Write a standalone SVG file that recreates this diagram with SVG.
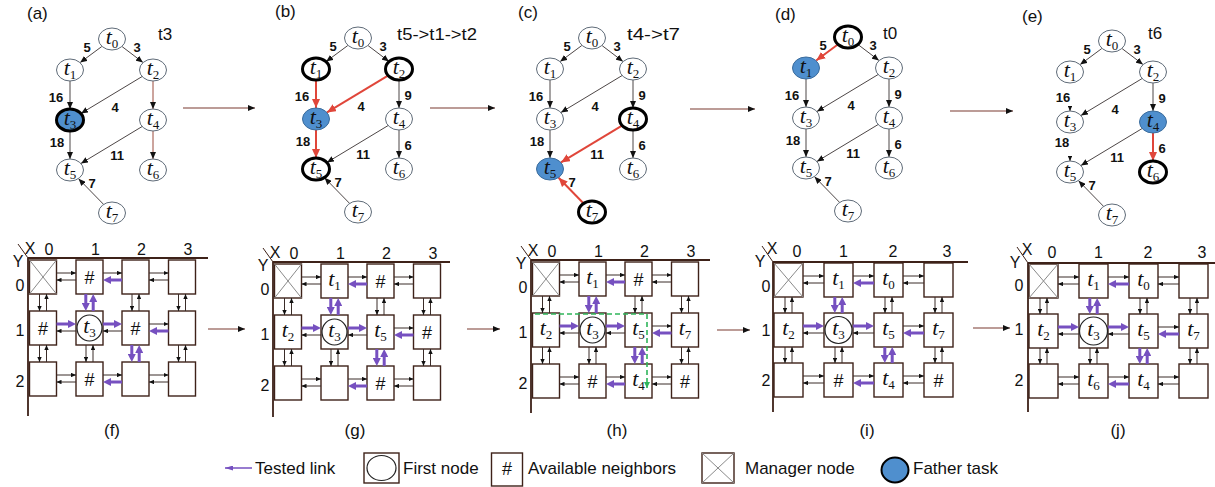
<svg xmlns="http://www.w3.org/2000/svg" xmlns:xlink="http://www.w3.org/1999/xlink" width="1215" height="487" viewBox="0 0 1215 487">
<defs>
<style>
.nd{fill:#fff;stroke:#5f6b78;stroke-width:1}
.bd{fill:#fff;stroke:#000;stroke-width:3}
.bu{fill:#4f8fce;stroke:#3b6c9c;stroke-width:1}
.bub{fill:#4f8fce;stroke:#000;stroke-width:3}
.e{stroke:#4d4646;stroke-width:1;fill:none;marker-end:url(#ah)}
.eb{stroke:#9a4a3c}
.r{stroke:#e0463a;stroke-width:2;fill:none;marker-end:url(#ahr)}
.tt{font-family:"Liberation Serif","DejaVu Serif",serif;font-style:italic;font-size:22px;text-anchor:middle;fill:#111}
.sb{font-style:normal;font-size:13px}
.w{font-family:"Liberation Sans",Arial,sans-serif;font-weight:bold;font-size:13px;text-anchor:middle;fill:#111}
.lb{font-family:"Liberation Sans",Arial,sans-serif;font-size:17px;fill:#111}
.tl{font-family:"Liberation Sans",Arial,sans-serif;font-size:17px;fill:#111}
.ax{font-family:"Liberation Sans",Arial,sans-serif;font-size:16px;text-anchor:middle;fill:#111}
.cl{fill:#fff;stroke:#3e2219;stroke-width:1.4}
.hs{font-family:"Liberation Sans",Arial,sans-serif;font-size:18px;text-anchor:middle;fill:#111}
.k{stroke:#3a2c28;stroke-width:1;marker-end:url(#ahs)}
.p{stroke:#7650c0;stroke-width:3;marker-end:url(#ahp)}
.axl{stroke:#3e2219;stroke-width:1.8;fill:none}
.mx{stroke:#8a8a8a;stroke-width:1;fill:none}
.fc{fill:none;stroke:#222;stroke-width:1.2}
.tr{stroke:#7a3b30;stroke-width:1.2;marker-end:url(#aht)}
.gd{fill:none;stroke:#2fb55a;stroke-width:1.6;stroke-dasharray:5 3;marker-end:url(#ahg)}
</style>
<marker id="ah" markerUnits="userSpaceOnUse" markerWidth="7" markerHeight="6" refX="7" refY="3" orient="auto"><path d="M0,0L7,3L0,6z" fill="#111"/></marker>
<marker id="ahr" markerUnits="userSpaceOnUse" markerWidth="9" markerHeight="8" refX="9" refY="4" orient="auto"><path d="M0,0L9,4L0,8z" fill="#e0463a"/></marker>
<marker id="ahs" markerUnits="userSpaceOnUse" markerWidth="5" markerHeight="4.4" refX="5" refY="2.2" orient="auto"><path d="M0,0L5,2.2L0,4.4z" fill="#111"/></marker>
<marker id="ahp" markerUnits="userSpaceOnUse" markerWidth="8" markerHeight="8" refX="3.2" refY="4" orient="auto"><path d="M0,0L8,4L0,8z" fill="#7650c0"/></marker>
<marker id="ahl" markerUnits="userSpaceOnUse" markerWidth="8" markerHeight="5" refX="8" refY="2.5" orient="auto"><path d="M0,0L8,2.5L0,5z" fill="#7650c0"/></marker>
<marker id="ahg" markerUnits="userSpaceOnUse" markerWidth="6" markerHeight="6" refX="6" refY="3" orient="auto"><path d="M0,0L6,3L0,6z" fill="#2fb55a"/></marker>
<marker id="aht" markerUnits="userSpaceOnUse" markerWidth="7" markerHeight="6" refX="7" refY="3" orient="auto"><path d="M0,0L7,3L0,6z" fill="#111"/></marker>
<g id="linksA">
<line class="k" x1="28.5" y1="15" x2="48" y2="15"/><line class="k" x1="48" y1="22" x2="28.5" y2="22"/>
<line class="k" x1="75" y1="15" x2="94" y2="15"/><line class="p" x1="94" y1="22" x2="79.8" y2="22"/>
<line class="k" x1="121" y1="15" x2="140.5" y2="15"/><line class="k" x1="140.5" y1="22" x2="121" y2="22"/>
<line class="p" x1="28.5" y1="66" x2="43.2" y2="66"/><line class="k" x1="48" y1="73" x2="28.5" y2="73"/>
<line class="p" x1="75" y1="66" x2="89.2" y2="66"/><line class="k" x1="94" y1="73" x2="75" y2="73"/>
<line class="k" x1="121" y1="66" x2="140.5" y2="66"/><line class="p" x1="140.5" y1="73" x2="125.8" y2="73"/>
<line class="k" x1="28.5" y1="117" x2="48" y2="117"/><line class="k" x1="48" y1="124" x2="28.5" y2="124"/>
<line class="k" x1="75" y1="117" x2="94" y2="117"/><line class="p" x1="94" y1="124" x2="79.8" y2="124"/>
<line class="k" x1="121" y1="117" x2="140.5" y2="117"/><line class="k" x1="140.5" y1="124" x2="121" y2="124"/>
<line class="k" x1="11.5" y1="36" x2="11.5" y2="53"/><line class="k" x1="18.5" y1="53" x2="18.5" y2="36"/>
<line class="p" x1="57.8" y1="36" x2="57.8" y2="48.2"/><line class="p" x1="65.2" y1="53" x2="65.2" y2="40.8"/>
<line class="k" x1="104" y1="36" x2="104" y2="53"/><line class="k" x1="111" y1="53" x2="111" y2="36"/>
<line class="k" x1="150.5" y1="36" x2="150.5" y2="53"/><line class="k" x1="157.5" y1="53" x2="157.5" y2="36"/>
<line class="k" x1="11.5" y1="87" x2="11.5" y2="104"/><line class="k" x1="18.5" y1="104" x2="18.5" y2="87"/>
<line class="k" x1="58" y1="87" x2="58" y2="104"/><line class="k" x1="65" y1="104" x2="65" y2="87"/>
<line class="p" x1="103.8" y1="87" x2="103.8" y2="99.2"/><line class="p" x1="111.2" y1="104" x2="111.2" y2="91.8"/>
<line class="k" x1="150.5" y1="87" x2="150.5" y2="104"/><line class="k" x1="157.5" y1="104" x2="157.5" y2="87"/>
</g>
<g id="linksB">
<line class="k" x1="30" y1="14" x2="51" y2="14"/><line class="k" x1="51" y1="21" x2="30" y2="21"/>
<line class="k" x1="80" y1="14" x2="101" y2="14"/><line class="p" x1="101" y1="21" x2="84.8" y2="21"/>
<line class="k" x1="130" y1="14" x2="151" y2="14"/><line class="k" x1="151" y1="21" x2="130" y2="21"/>
<line class="p" x1="30" y1="64" x2="46.2" y2="64"/><line class="k" x1="51" y1="71" x2="30" y2="71"/>
<line class="p" x1="80" y1="64" x2="96.2" y2="64"/><line class="k" x1="101" y1="71" x2="80" y2="71"/>
<line class="k" x1="130" y1="64" x2="151" y2="64"/><line class="p" x1="151" y1="71" x2="134.8" y2="71"/>
<line class="k" x1="30" y1="114" x2="51" y2="114"/><line class="k" x1="51" y1="121" x2="30" y2="121"/>
<line class="k" x1="80" y1="114" x2="101" y2="114"/><line class="p" x1="101" y1="121" x2="84.8" y2="121"/>
<line class="k" x1="130" y1="114" x2="151" y2="114"/><line class="k" x1="151" y1="121" x2="130" y2="121"/>
<line class="k" x1="12" y1="35" x2="12" y2="51"/><line class="k" x1="19" y1="51" x2="19" y2="35"/>
<line class="p" x1="61.8" y1="35" x2="61.8" y2="46.2"/><line class="p" x1="69.2" y1="51" x2="69.2" y2="39.8"/>
<line class="k" x1="112" y1="35" x2="112" y2="51"/><line class="k" x1="119" y1="51" x2="119" y2="35"/>
<line class="k" x1="162" y1="35" x2="162" y2="51"/><line class="k" x1="169" y1="51" x2="169" y2="35"/>
<line class="k" x1="12" y1="85" x2="12" y2="101"/><line class="k" x1="19" y1="101" x2="19" y2="85"/>
<line class="k" x1="62" y1="85" x2="62" y2="101"/><line class="k" x1="69" y1="101" x2="69" y2="85"/>
<line class="p" x1="111.8" y1="85" x2="111.8" y2="96.2"/><line class="p" x1="119.2" y1="101" x2="119.2" y2="89.8"/>
<line class="k" x1="162" y1="85" x2="162" y2="101"/><line class="k" x1="169" y1="101" x2="169" y2="85"/>
</g>
</defs>
<rect width="1215" height="487" fill="#fff"/>

<!-- panel labels -->
<g id="labels">
<text class="lb" x="27" y="19">(a)</text>
<text class="lb" x="275" y="17">(b)</text>
<text class="lb" x="518" y="18">(c)</text>
<text class="lb" x="775" y="20">(d)</text>
<text class="lb" x="1022" y="22">(e)</text>
<text class="tl" x="158" y="40">t3</text>
<text class="tl" x="397" y="40" textLength="80" lengthAdjust="spacingAndGlyphs">t5-&gt;t1-&gt;t2</text>
<text class="tl" x="627" y="40" textLength="53" lengthAdjust="spacingAndGlyphs">t4-&gt;t7</text>
<text class="tl" x="883" y="39">t0</text>
<text class="tl" x="1148" y="39">t6</text>
<text class="lb" x="112" y="436" text-anchor="middle">(f)</text>
<text class="lb" x="355" y="436" text-anchor="middle">(g)</text>
<text class="lb" x="617" y="436" text-anchor="middle">(h)</text>
<text class="lb" x="867" y="436" text-anchor="middle">(i)</text>
<text class="lb" x="1118" y="436" text-anchor="middle">(j)</text>
</g>

<!-- graph (a) -->
<g id="graph-a" transform="translate(112,39)">
<g id="a-edges">
<line class="e" x1="-10.2" y1="7.5" x2="-31.8" y2="23.5"/>
<line class="e" x1="10.1" y1="7.6" x2="30.9" y2="23.4"/>
<line class="e" x1="-42" y1="42" x2="-42" y2="70"/>
<line class="e" x1="30" y1="37.6" x2="-31" y2="74.4"/>
<line class="e eb" x1="41" y1="42" x2="41" y2="70"/>
<line class="e" x1="-42" y1="92" x2="-42" y2="120"/>
<line class="e" x1="30" y1="87.6" x2="-31" y2="124.4"/>
<line class="e eb" x1="41" y1="92" x2="41" y2="120"/>
<line class="e" x1="-8.6" y1="165.2" x2="-33.4" y2="139.8"/>
</g>
<g class="w"><text x="-25" y="12.5">5</text><text x="25" y="12.5">3</text><text x="-56" y="62.5">16</text><text x="3" y="72.5">4</text><text x="-55" y="107.5">18</text><text x="5" y="120.5">11</text><text x="-20" y="148.5">7</text></g>
<g id="a-t0"><ellipse class="nd" cx="0" cy="0" rx="13.5" ry="11"/><text class="tt" x="0" y="4.5">t<tspan class="sb" dy="4">0</tspan></text></g>
<g id="a-t1"><ellipse class="nd" cx="-42" cy="31" rx="13.5" ry="11"/><text class="tt" x="-42" y="35.5">t<tspan class="sb" dy="4">1</tspan></text></g>
<g id="a-t2"><ellipse class="nd" cx="41" cy="31" rx="13.5" ry="11"/><text class="tt" x="41" y="35.5">t<tspan class="sb" dy="4">2</tspan></text></g>
<g id="a-t3"><ellipse class="bub" cx="-42" cy="81" rx="13.5" ry="11"/><text class="tt" x="-42" y="85.5">t<tspan class="sb" dy="4">3</tspan></text></g>
<g id="a-t4"><ellipse class="nd" cx="41" cy="81" rx="13.5" ry="11"/><text class="tt" x="41" y="85.5">t<tspan class="sb" dy="4">4</tspan></text></g>
<g id="a-t5"><ellipse class="nd" cx="-42" cy="131" rx="13.5" ry="11"/><text class="tt" x="-42" y="135.5">t<tspan class="sb" dy="4">5</tspan></text></g>
<g id="a-t6"><ellipse class="nd" cx="41" cy="131" rx="13.5" ry="11"/><text class="tt" x="41" y="135.5">t<tspan class="sb" dy="4">6</tspan></text></g>
<g id="a-t7"><ellipse class="nd" cx="0" cy="174" rx="13.5" ry="11"/><text class="tt" x="0" y="178.5">t<tspan class="sb" dy="4">7</tspan></text></g>
</g>

<!-- graph (b) -->
<g id="graph-b" transform="translate(358,38)">
<g id="b-edges">
<line class="e" x1="-10.2" y1="7.5" x2="-31.8" y2="23.5"/>
<line class="e" x1="10.1" y1="7.6" x2="30.9" y2="23.4"/>
<line class="r" x1="-42" y1="42" x2="-42" y2="70"/>
<line class="r" x1="30" y1="37.6" x2="-31" y2="74.4"/>
<line class="e" x1="41" y1="42" x2="41" y2="70"/>
<line class="r" x1="-42" y1="92" x2="-42" y2="120"/>
<line class="e" x1="30" y1="87.6" x2="-31" y2="124.4"/>
<line class="e" x1="41" y1="92" x2="41" y2="120"/>
<line class="e" x1="-8.6" y1="165.2" x2="-33.4" y2="139.8"/>
</g>
<g class="w"><text x="-25" y="12.5">5</text><text x="25" y="12.5">3</text><text x="-56" y="62.5">16</text><text x="3" y="72.5">4</text><text x="50" y="61.5">9</text><text x="-55" y="107.5">18</text><text x="5" y="120.5">11</text><text x="50" y="111.5">6</text><text x="-20" y="148.5">7</text></g>
<g id="b-t0"><ellipse class="nd" cx="0" cy="0" rx="13.5" ry="11"/><text class="tt" x="0" y="4.5">t<tspan class="sb" dy="4">0</tspan></text></g>
<g id="b-t1"><ellipse class="bd" cx="-42" cy="31" rx="13.5" ry="11"/><text class="tt" x="-42" y="35.5">t<tspan class="sb" dy="4">1</tspan></text></g>
<g id="b-t2"><ellipse class="bd" cx="41" cy="31" rx="13.5" ry="11"/><text class="tt" x="41" y="35.5">t<tspan class="sb" dy="4">2</tspan></text></g>
<g id="b-t3"><ellipse class="bu" cx="-42" cy="81" rx="13.5" ry="11"/><text class="tt" x="-42" y="85.5">t<tspan class="sb" dy="4">3</tspan></text></g>
<g id="b-t4"><ellipse class="nd" cx="41" cy="81" rx="13.5" ry="11"/><text class="tt" x="41" y="85.5">t<tspan class="sb" dy="4">4</tspan></text></g>
<g id="b-t5"><ellipse class="bd" cx="-42" cy="131" rx="13.5" ry="11"/><text class="tt" x="-42" y="135.5">t<tspan class="sb" dy="4">5</tspan></text></g>
<g id="b-t6"><ellipse class="nd" cx="41" cy="131" rx="13.5" ry="11"/><text class="tt" x="41" y="135.5">t<tspan class="sb" dy="4">6</tspan></text></g>
<g id="b-t7"><ellipse class="nd" cx="0" cy="174" rx="13.5" ry="11"/><text class="tt" x="0" y="178.5">t<tspan class="sb" dy="4">7</tspan></text></g>
</g>

<!-- graph (c) -->
<g id="graph-c" transform="translate(592,38)">
<g id="c-edges">
<line class="e" x1="-10.2" y1="7.5" x2="-31.8" y2="23.5"/>
<line class="e" x1="10.1" y1="7.6" x2="30.9" y2="23.4"/>
<line class="e" x1="-42" y1="42" x2="-42" y2="70"/>
<line class="e" x1="30" y1="37.6" x2="-31" y2="74.4"/>
<line class="e" x1="41" y1="42" x2="41" y2="70"/>
<line class="e" x1="-42" y1="92" x2="-42" y2="120"/>
<line class="r" x1="30" y1="87.6" x2="-31" y2="124.4"/>
<line class="e" x1="41" y1="92" x2="41" y2="120"/>
<line class="r" x1="-8.6" y1="165.2" x2="-33.4" y2="139.8"/>
</g>
<g class="w"><text x="-25" y="12.5">5</text><text x="25" y="12.5">3</text><text x="-56" y="62.5">16</text><text x="3" y="72.5">4</text><text x="50" y="61.5">9</text><text x="-55" y="107.5">18</text><text x="5" y="120.5">11</text><text x="50" y="111.5">6</text><text x="-20" y="148.5">7</text></g>
<g id="c-t0"><ellipse class="nd" cx="0" cy="0" rx="13.5" ry="11"/><text class="tt" x="0" y="4.5">t<tspan class="sb" dy="4">0</tspan></text></g>
<g id="c-t1"><ellipse class="nd" cx="-42" cy="31" rx="13.5" ry="11"/><text class="tt" x="-42" y="35.5">t<tspan class="sb" dy="4">1</tspan></text></g>
<g id="c-t2"><ellipse class="nd" cx="41" cy="31" rx="13.5" ry="11"/><text class="tt" x="41" y="35.5">t<tspan class="sb" dy="4">2</tspan></text></g>
<g id="c-t3"><ellipse class="nd" cx="-42" cy="81" rx="13.5" ry="11"/><text class="tt" x="-42" y="85.5">t<tspan class="sb" dy="4">3</tspan></text></g>
<g id="c-t4"><ellipse class="bd" cx="41" cy="81" rx="13.5" ry="11"/><text class="tt" x="41" y="85.5">t<tspan class="sb" dy="4">4</tspan></text></g>
<g id="c-t5"><ellipse class="bu" cx="-42" cy="131" rx="13.5" ry="11"/><text class="tt" x="-42" y="135.5">t<tspan class="sb" dy="4">5</tspan></text></g>
<g id="c-t6"><ellipse class="nd" cx="41" cy="131" rx="13.5" ry="11"/><text class="tt" x="41" y="135.5">t<tspan class="sb" dy="4">6</tspan></text></g>
<g id="c-t7"><ellipse class="bd" cx="0" cy="174" rx="13.5" ry="11"/><text class="tt" x="0" y="178.5">t<tspan class="sb" dy="4">7</tspan></text></g>
</g>

<!-- graph (d) -->
<g id="graph-d" transform="translate(848,37)">
<g id="d-edges">
<line class="r" x1="-10.2" y1="7.5" x2="-31.8" y2="23.5"/>
<line class="e" x1="10.1" y1="7.6" x2="30.9" y2="23.4"/>
<line class="e" x1="-42" y1="42" x2="-42" y2="70"/>
<line class="e" x1="30" y1="37.6" x2="-31" y2="74.4"/>
<line class="e" x1="41" y1="42" x2="41" y2="70"/>
<line class="e" x1="-42" y1="92" x2="-42" y2="120"/>
<line class="e" x1="30" y1="87.6" x2="-31" y2="124.4"/>
<line class="e" x1="41" y1="92" x2="41" y2="120"/>
<line class="e" x1="-8.6" y1="165.2" x2="-33.4" y2="139.8"/>
</g>
<g class="w"><text x="-25" y="12.5">5</text><text x="25" y="12.5">3</text><text x="-56" y="62.5">16</text><text x="3" y="72.5">4</text><text x="50" y="61.5">9</text><text x="-55" y="107.5">18</text><text x="5" y="120.5">11</text><text x="50" y="111.5">6</text><text x="-20" y="148.5">7</text></g>
<g id="d-t0"><ellipse class="bd" cx="0" cy="0" rx="13.5" ry="11"/><text class="tt" x="0" y="4.5">t<tspan class="sb" dy="4">0</tspan></text></g>
<g id="d-t1"><ellipse class="bu" cx="-42" cy="31" rx="13.5" ry="11"/><text class="tt" x="-42" y="35.5">t<tspan class="sb" dy="4">1</tspan></text></g>
<g id="d-t2"><ellipse class="nd" cx="41" cy="31" rx="13.5" ry="11"/><text class="tt" x="41" y="35.5">t<tspan class="sb" dy="4">2</tspan></text></g>
<g id="d-t3"><ellipse class="nd" cx="-42" cy="81" rx="13.5" ry="11"/><text class="tt" x="-42" y="85.5">t<tspan class="sb" dy="4">3</tspan></text></g>
<g id="d-t4"><ellipse class="nd" cx="41" cy="81" rx="13.5" ry="11"/><text class="tt" x="41" y="85.5">t<tspan class="sb" dy="4">4</tspan></text></g>
<g id="d-t5"><ellipse class="nd" cx="-42" cy="131" rx="13.5" ry="11"/><text class="tt" x="-42" y="135.5">t<tspan class="sb" dy="4">5</tspan></text></g>
<g id="d-t6"><ellipse class="nd" cx="41" cy="131" rx="13.5" ry="11"/><text class="tt" x="41" y="135.5">t<tspan class="sb" dy="4">6</tspan></text></g>
<g id="d-t7"><ellipse class="nd" cx="0" cy="174" rx="13.5" ry="11"/><text class="tt" x="0" y="178.5">t<tspan class="sb" dy="4">7</tspan></text></g>
</g>

<!-- graph (e) -->
<g id="graph-e" transform="translate(1112,41)">
<g id="e-edges">
<line class="e" x1="-10.2" y1="7.5" x2="-31.8" y2="23.5"/>
<line class="e" x1="10.1" y1="7.6" x2="30.9" y2="23.4"/>
<line class="k" x1="-42" y1="66" x2="-42" y2="70"/>
<line class="e" x1="30" y1="37.6" x2="-31" y2="74.4"/>
<line class="e" x1="41" y1="42" x2="41" y2="70"/>
<line class="k" x1="-42" y1="116" x2="-42" y2="120"/>
<line class="e" x1="30" y1="87.6" x2="-31" y2="124.4"/>
<line class="r" x1="41" y1="92" x2="41" y2="120"/>
<line class="e" x1="-8.6" y1="165.2" x2="-33.4" y2="139.8"/>
</g>
<g class="w"><text x="-25" y="12.5">5</text><text x="25" y="12.5">3</text><text x="-49" y="60.5">16</text><text x="3" y="72.5">4</text><text x="50" y="61.5">9</text><text x="-50" y="105.5">18</text><text x="5" y="120.5">11</text><text x="50" y="111.5">6</text><text x="-20" y="148.5">7</text></g>
<g id="e-t0"><ellipse class="nd" cx="0" cy="0" rx="13.5" ry="11"/><text class="tt" x="0" y="4.5">t<tspan class="sb" dy="4">0</tspan></text></g>
<g id="e-t1"><ellipse class="nd" cx="-42" cy="31" rx="13.5" ry="11"/><text class="tt" x="-42" y="35.5">t<tspan class="sb" dy="4">1</tspan></text></g>
<g id="e-t2"><ellipse class="nd" cx="41" cy="31" rx="13.5" ry="11"/><text class="tt" x="41" y="35.5">t<tspan class="sb" dy="4">2</tspan></text></g>
<g id="e-t3"><ellipse class="nd" cx="-42" cy="81" rx="13.5" ry="11"/><text class="tt" x="-42" y="85.5">t<tspan class="sb" dy="4">3</tspan></text></g>
<g id="e-t4"><ellipse class="bu" cx="41" cy="81" rx="13.5" ry="11"/><text class="tt" x="41" y="85.5">t<tspan class="sb" dy="4">4</tspan></text></g>
<g id="e-t5"><ellipse class="nd" cx="-42" cy="131" rx="13.5" ry="11"/><text class="tt" x="-42" y="135.5">t<tspan class="sb" dy="4">5</tspan></text></g>
<g id="e-t6"><ellipse class="bd" cx="41" cy="131" rx="13.5" ry="11"/><text class="tt" x="41" y="135.5">t<tspan class="sb" dy="4">6</tspan></text></g>
<g id="e-t7"><ellipse class="nd" cx="0" cy="174" rx="13.5" ry="11"/><text class="tt" x="0" y="178.5">t<tspan class="sb" dy="4">7</tspan></text></g>
</g>

<!-- grid (f) -->
<g id="grid-f" transform="translate(28,258)">
<path class="axl" d="M0,0H180M0,0V158"/>
<line x1="-10" y1="-14" x2="0" y2="0" stroke="#3e2219" stroke-width="1"/>
<text class="ax" x="2" y="-4.5">X</text><text class="ax" x="-10" y="9">Y</text>
<text class="ax" x="21" y="-3">0</text><text class="ax" x="67.5" y="-3">1</text><text class="ax" x="113.5" y="-3">2</text><text class="ax" x="160" y="-3">3</text>
<text class="ax" x="-8" y="33">0</text><text class="ax" x="-8" y="78">1</text><text class="ax" x="-8" y="129">2</text>
<g id="f-00"><rect class="cl" x="1.5" y="2" width="27" height="34"/><path class="mx" d="M1.5,2L28.5,36M28.5,2L1.5,36"/></g>
<g id="f-10"><rect class="cl" x="48" y="2" width="27" height="34"/><text class="hs" x="61.5" y="25.5">#</text></g>
<g id="f-20"><rect class="cl" x="94" y="2" width="27" height="34"/></g>
<g id="f-30"><rect class="cl" x="140.5" y="2" width="27" height="34"/></g>
<g id="f-01"><rect class="cl" x="1.5" y="53" width="27" height="34"/><text class="hs" x="15" y="76.5">#</text></g>
<g id="f-11"><rect class="cl" x="48" y="53" width="27" height="34"/><ellipse class="fc" cx="61.5" cy="70" rx="12.5" ry="13"/><text class="tt" x="61.5" y="74.5">t<tspan class="sb" dy="4">3</tspan></text></g>
<g id="f-21"><rect class="cl" x="94" y="53" width="27" height="34"/><text class="hs" x="107.5" y="76.5">#</text></g>
<g id="f-31"><rect class="cl" x="140.5" y="53" width="27" height="34"/></g>
<g id="f-02"><rect class="cl" x="1.5" y="104" width="27" height="34"/></g>
<g id="f-12"><rect class="cl" x="48" y="104" width="27" height="34"/><text class="hs" x="61.5" y="127.5">#</text></g>
<g id="f-22"><rect class="cl" x="94" y="104" width="27" height="34"/></g>
<g id="f-32"><rect class="cl" x="140.5" y="104" width="27" height="34"/></g>
</g>

<!-- grid (g) -->
<g id="grid-g" transform="translate(273,262)">
<path class="axl" d="M0,0H177M0,0V155"/>
<line x1="-10" y1="-14" x2="0" y2="0" stroke="#3e2219" stroke-width="1"/>
<text class="ax" x="2" y="-4.5">X</text><text class="ax" x="-10" y="9">Y</text>
<text class="ax" x="21" y="-3">0</text><text class="ax" x="67.5" y="-3">1</text><text class="ax" x="113.5" y="-3">2</text><text class="ax" x="160" y="-3">3</text>
<text class="ax" x="-8" y="33">0</text><text class="ax" x="-8" y="78">1</text><text class="ax" x="-8" y="129">2</text>
<g id="g-00"><rect class="cl" x="1.5" y="2" width="27" height="34"/><path class="mx" d="M1.5,2L28.5,36M28.5,2L1.5,36"/></g>
<g id="g-10"><rect class="cl" x="48" y="2" width="27" height="34"/><text class="tt" x="61.5" y="23.5">t<tspan class="sb" dy="4">1</tspan></text></g>
<g id="g-20"><rect class="cl" x="94" y="2" width="27" height="34"/><text class="hs" x="107.5" y="25.5">#</text></g>
<g id="g-30"><rect class="cl" x="140.5" y="2" width="27" height="34"/></g>
<g id="g-01"><rect class="cl" x="1.5" y="53" width="27" height="34"/><text class="tt" x="15" y="74.5">t<tspan class="sb" dy="4">2</tspan></text></g>
<g id="g-11"><rect class="cl" x="48" y="53" width="27" height="34"/><ellipse class="fc" cx="61.5" cy="70" rx="12.5" ry="13"/><text class="tt" x="61.5" y="74.5">t<tspan class="sb" dy="4">3</tspan></text></g>
<g id="g-21"><rect class="cl" x="94" y="53" width="27" height="34"/><text class="tt" x="107.5" y="74.5">t<tspan class="sb" dy="4">5</tspan></text></g>
<g id="g-31"><rect class="cl" x="140.5" y="53" width="27" height="34"/><text class="hs" x="154" y="76.5">#</text></g>
<g id="g-02"><rect class="cl" x="1.5" y="104" width="27" height="34"/></g>
<g id="g-12"><rect class="cl" x="48" y="104" width="27" height="34"/></g>
<g id="g-22"><rect class="cl" x="94" y="104" width="27" height="34"/><text class="hs" x="107.5" y="127.5">#</text></g>
<g id="g-32"><rect class="cl" x="140.5" y="104" width="27" height="34"/></g>
</g>

<!-- grid (h) -->
<g id="grid-h" transform="translate(531,260)">
<path class="axl" d="M0,0H179M0,0V153"/>
<line x1="-10" y1="-14" x2="0" y2="0" stroke="#3e2219" stroke-width="1"/>
<text class="ax" x="2" y="-4.5">X</text><text class="ax" x="-10" y="9">Y</text>
<text class="ax" x="21" y="-3">0</text><text class="ax" x="67.5" y="-3">1</text><text class="ax" x="113.5" y="-3">2</text><text class="ax" x="160" y="-3">3</text>
<text class="ax" x="-8" y="33">0</text><text class="ax" x="-8" y="78">1</text><text class="ax" x="-8" y="129">2</text>
<g id="h-00"><rect class="cl" x="1.5" y="2" width="27" height="34"/><path class="mx" d="M1.5,2L28.5,36M28.5,2L1.5,36"/></g>
<g id="h-10"><rect class="cl" x="48" y="2" width="27" height="34"/><text class="tt" x="61.5" y="23.5">t<tspan class="sb" dy="4">1</tspan></text></g>
<g id="h-20"><rect class="cl" x="94" y="2" width="27" height="34"/><text class="hs" x="107.5" y="25.5">#</text></g>
<g id="h-30"><rect class="cl" x="140.5" y="2" width="27" height="34"/></g>
<g id="h-01"><rect class="cl" x="1.5" y="53" width="27" height="34"/><text class="tt" x="15" y="74.5">t<tspan class="sb" dy="4">2</tspan></text></g>
<g id="h-11"><rect class="cl" x="48" y="53" width="27" height="34"/><ellipse class="fc" cx="61.5" cy="70" rx="12.5" ry="13"/><text class="tt" x="61.5" y="74.5">t<tspan class="sb" dy="4">3</tspan></text></g>
<g id="h-21"><rect class="cl" x="94" y="53" width="27" height="34"/><text class="tt" x="107.5" y="74.5">t<tspan class="sb" dy="4">5</tspan></text></g>
<g id="h-31"><rect class="cl" x="140.5" y="53" width="27" height="34"/><text class="tt" x="154" y="74.5">t<tspan class="sb" dy="4">7</tspan></text></g>
<g id="h-02"><rect class="cl" x="1.5" y="104" width="27" height="34"/></g>
<g id="h-12"><rect class="cl" x="48" y="104" width="27" height="34"/><text class="hs" x="61.5" y="127.5">#</text></g>
<g id="h-22"><rect class="cl" x="94" y="104" width="27" height="34"/><text class="tt" x="107.5" y="125.5">t<tspan class="sb" dy="4">4</tspan></text></g>
<g id="h-32"><rect class="cl" x="140.5" y="104" width="27" height="34"/><text class="hs" x="154" y="127.5">#</text></g>
</g>

<!-- grid (i) -->
<g id="grid-i" transform="translate(773,262)">
<path class="axl" d="M0,0H195M0,0V150"/>
<line x1="-11" y1="-16" x2="0" y2="0" stroke="#3e2219" stroke-width="1"/>
<text class="ax" x="-1" y="-8">X</text><text class="ax" x="-13" y="5">Y</text>
<text class="ax" x="24" y="-5">0</text><text class="ax" x="70.5" y="-5">1</text><text class="ax" x="120" y="-5">2</text><text class="ax" x="174" y="-5">3</text>
<text class="ax" x="-7" y="30">0</text><text class="ax" x="-7" y="74">1</text><text class="ax" x="-7" y="124">2</text>
<g id="i-00"><rect class="cl" x="1" y="1" width="29" height="34"/><path class="mx" d="M1,1L30,35M30,1L1,35"/></g>
<g id="i-10"><rect class="cl" x="51" y="1" width="29" height="34"/><text class="tt" x="65.5" y="22.5">t<tspan class="sb" dy="4">1</tspan></text></g>
<g id="i-20"><rect class="cl" x="101" y="1" width="29" height="34"/><text class="tt" x="115.5" y="22.5">t<tspan class="sb" dy="4">0</tspan></text></g>
<g id="i-30"><rect class="cl" x="151" y="1" width="29" height="34"/></g>
<g id="i-01"><rect class="cl" x="1" y="51" width="29" height="34"/><text class="tt" x="15.5" y="72.5">t<tspan class="sb" dy="4">2</tspan></text></g>
<g id="i-11"><rect class="cl" x="51" y="51" width="29" height="34"/><ellipse class="fc" cx="65.5" cy="68" rx="13.5" ry="13.5"/><text class="tt" x="65.5" y="72.5">t<tspan class="sb" dy="4">3</tspan></text></g>
<g id="i-21"><rect class="cl" x="101" y="51" width="29" height="34"/><text class="tt" x="115.5" y="72.5">t<tspan class="sb" dy="4">5</tspan></text></g>
<g id="i-31"><rect class="cl" x="151" y="51" width="29" height="34"/><text class="tt" x="165.5" y="72.5">t<tspan class="sb" dy="4">7</tspan></text></g>
<g id="i-02"><rect class="cl" x="1" y="101" width="29" height="34"/></g>
<g id="i-12"><rect class="cl" x="51" y="101" width="29" height="34"/><text class="hs" x="65.5" y="124.5">#</text></g>
<g id="i-22"><rect class="cl" x="101" y="101" width="29" height="34"/><text class="tt" x="115.5" y="122.5">t<tspan class="sb" dy="4">4</tspan></text></g>
<g id="i-32"><rect class="cl" x="151" y="101" width="29" height="34"/><text class="hs" x="165.5" y="124.5">#</text></g>
</g>

<!-- grid (j) -->
<g id="grid-j" transform="translate(1028,263)">
<path class="axl" d="M0,0H190M0,0V149"/>
<line x1="-11" y1="-16" x2="0" y2="0" stroke="#3e2219" stroke-width="1"/>
<text class="ax" x="-1" y="-8">X</text><text class="ax" x="-13" y="5">Y</text>
<text class="ax" x="24" y="-5">0</text><text class="ax" x="70.5" y="-5">1</text><text class="ax" x="120" y="-5">2</text><text class="ax" x="174" y="-5">3</text>
<text class="ax" x="-9" y="28">0</text><text class="ax" x="-9" y="72">1</text><text class="ax" x="-9" y="123">2</text>
<g id="j-00"><rect class="cl" x="1" y="1" width="29" height="34"/><path class="mx" d="M1,1L30,35M30,1L1,35"/></g>
<g id="j-10"><rect class="cl" x="51" y="1" width="29" height="34"/><text class="tt" x="65.5" y="22.5">t<tspan class="sb" dy="4">1</tspan></text></g>
<g id="j-20"><rect class="cl" x="101" y="1" width="29" height="34"/><text class="tt" x="115.5" y="22.5">t<tspan class="sb" dy="4">0</tspan></text></g>
<g id="j-30"><rect class="cl" x="151" y="1" width="29" height="34"/></g>
<g id="j-01"><rect class="cl" x="1" y="51" width="29" height="34"/><text class="tt" x="15.5" y="72.5">t<tspan class="sb" dy="4">2</tspan></text></g>
<g id="j-11"><rect class="cl" x="51" y="51" width="29" height="34"/><ellipse class="fc" cx="65.5" cy="68" rx="14" ry="14"/><text class="tt" x="65.5" y="72.5">t<tspan class="sb" dy="4">3</tspan></text></g>
<g id="j-21"><rect class="cl" x="101" y="51" width="29" height="34"/><text class="tt" x="115.5" y="72.5">t<tspan class="sb" dy="4">5</tspan></text></g>
<g id="j-31"><rect class="cl" x="151" y="51" width="29" height="34"/><text class="tt" x="165.5" y="72.5">t<tspan class="sb" dy="4">7</tspan></text></g>
<g id="j-02"><rect class="cl" x="1" y="101" width="29" height="34"/></g>
<g id="j-12"><rect class="cl" x="51" y="101" width="29" height="34"/><text class="tt" x="65.5" y="122.5">t<tspan class="sb" dy="4">6</tspan></text></g>
<g id="j-22"><rect class="cl" x="101" y="101" width="29" height="34"/><text class="tt" x="115.5" y="122.5">t<tspan class="sb" dy="4">4</tspan></text></g>
<g id="j-32"><rect class="cl" x="151" y="101" width="29" height="34"/></g>
</g>

<!-- connectors -->
<g id="connectors">
<use xlink:href="#linksA" href="#linksA" transform="translate(28,258)"/>
<use xlink:href="#linksA" href="#linksA" transform="translate(273,262)"/>
<use xlink:href="#linksA" href="#linksA" transform="translate(531,260)"/>
<use xlink:href="#linksB" href="#linksB" transform="translate(773,262)"/>
<use xlink:href="#linksB" href="#linksB" transform="translate(1028,263)"/>
<path class="gd" d="M535,314H647V388"/>
<line class="tr" x1="183" y1="108" x2="255" y2="108"/>
<line class="tr" x1="430" y1="108" x2="495" y2="108"/>
<line class="tr" x1="690" y1="109" x2="755" y2="109"/>
<line class="tr" x1="950" y1="111" x2="1013" y2="111"/>
<line class="tr" x1="208" y1="329" x2="245" y2="329"/>
<line class="tr" x1="467" y1="329" x2="500" y2="329"/>
<line class="tr" x1="717" y1="330" x2="750" y2="330"/>
<line class="tr" x1="973" y1="328" x2="1010" y2="328"/>
</g>

<!-- legend -->
<g id="legend">
<line x1="252" y1="468" x2="225" y2="468" stroke="#7650c0" stroke-width="1.5" marker-end="url(#ahl)"/>
<text class="tl" x="255" y="474">Tested link</text>
<rect class="cl" x="364" y="453" width="35" height="30"/>
<ellipse class="fc" cx="381.5" cy="468" rx="14.5" ry="12.5"/>
<text class="tl" x="403" y="474">First node</text>
<rect class="cl" x="491.5" y="453" width="31" height="33" stroke="#9a5a3a"/>
<text class="hs" x="507" y="475">#</text>
<text class="tl" x="528" y="474">Available neighbors</text>
<rect class="cl" x="702" y="453" width="32" height="30"/>
<path class="mx" d="M702,453L734,483M734,453L702,483"/>
<text class="tl" x="745" y="474">Manager node</text>
<ellipse cx="895" cy="470" rx="13.5" ry="12.5" fill="#4f8fce" stroke="#000" stroke-width="2"/>
<text class="tl" x="913" y="474">Father task</text>
</g>
</svg>
